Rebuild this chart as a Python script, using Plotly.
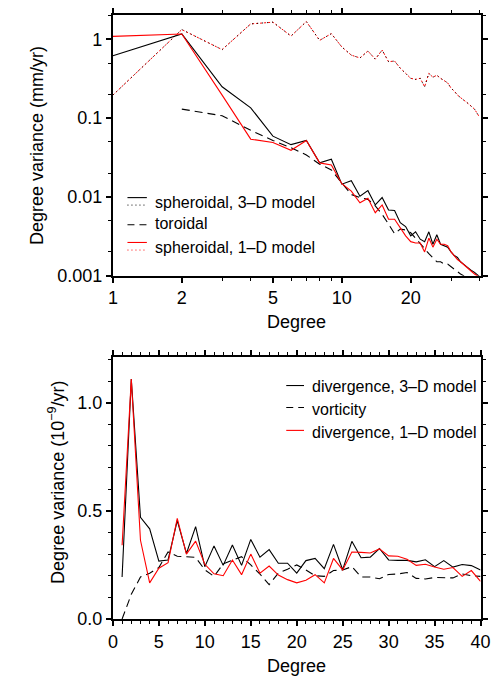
import plotly.graph_objects as go

# ---------------- data: top panel (log-log) ----------------
deg_top = list(range(1, 41))
sph3d = [0.62, 1.17, 0.25, 0.135, 0.059, 0.046, 0.052, 0.027, 0.030, 0.0145,
         0.016, 0.0102, 0.012, 0.0079, 0.0098, 0.0068, 0.0067, 0.0047, 0.0042, 0.0032,
         0.0036, 0.0029, 0.0027, 0.0036, 0.0025, 0.0033, 0.0025, 0.0024, 0.0023, 0.0020,
         0.0018, 0.0017, 0.0015, 0.0014, 0.0013, 0.0012, 0.00115, 0.0011, 0.00102, 0.00097]
sph1d = [1.09, 1.17, 0.196, 0.054, 0.049, 0.039, 0.052, 0.027, 0.0254, 0.0147,
         0.0118, 0.0084, 0.0096, 0.0063, 0.0079, 0.0052, 0.0052, 0.0040, 0.0032, 0.0027,
         0.0026, 0.0026, 0.0020, 0.0030, 0.0023, 0.0029, 0.0025, 0.0025, 0.0024, 0.0020,
         0.0018, 0.0016, 0.0015, 0.0014, 0.0013, 0.0012, 0.00112, 0.00105, 0.0010, 0.00095]
deg_tor = list(range(2, 41))
toroidal = [0.13, 0.107, 0.07, 0.052, 0.042, 0.034, 0.026, 0.022, 0.015,
            0.0107, 0.0098, 0.0093, 0.0077, 0.006, 0.0045, 0.0034, 0.0039, 0.0038, 0.0035,
            0.0030, 0.0026, 0.0022, 0.0019, 0.0017, 0.0015, 0.0015, 0.0014, 0.0014, 0.0013,
            0.0012, 0.0011, 0.00105, 0.0010, 0.0009, 0.00085, 0.0008, 0.00075, 0.0007, 0.00065]
sph3d_dot = [0.196, 1.33, 0.74, 1.57, 1.65, 1.10, 1.68, 0.97, 1.18, 0.80,
             0.63, 0.58, 0.71, 0.56, 0.73, 0.52, 0.53, 0.43, 0.37, 0.32,
             0.31, 0.32, 0.25, 0.37, 0.33, 0.35, 0.32, 0.30, 0.28, 0.24,
             0.22, 0.196, 0.18, 0.17, 0.16, 0.15, 0.14, 0.13, 0.115, 0.102]
sph1d_dot = [0.196, 1.33, 0.74, 1.57, 1.65, 1.10, 1.68, 0.97, 1.18, 0.80,
             0.63, 0.58, 0.71, 0.56, 0.73, 0.52, 0.53, 0.43, 0.37, 0.32,
             0.31, 0.32, 0.25, 0.37, 0.33, 0.35, 0.32, 0.30, 0.28, 0.24,
             0.22, 0.196, 0.18, 0.17, 0.16, 0.15, 0.14, 0.13, 0.115, 0.102]

# ---------------- data: bottom panel (linear) ----------------
deg_bot = list(range(1, 41))
div3d = [0.194, 1.109, 0.47, 0.417, 0.268, 0.273, 0.455, 0.303, 0.427, 0.242,
         0.338, 0.248, 0.342, 0.248, 0.368, 0.286, 0.321, 0.258, 0.258, 0.212,
         0.27, 0.28, 0.233, 0.345, 0.228, 0.359, 0.283, 0.286, 0.326, 0.273,
         0.271, 0.271, 0.264, 0.274, 0.242, 0.27, 0.24, 0.252, 0.247, 0.227]
div1d = [0.341, 1.109, 0.364, 0.167, 0.235, 0.26, 0.465, 0.3, 0.36, 0.253,
         0.209, 0.2, 0.273, 0.205, 0.3, 0.212, 0.245, 0.203, 0.182, 0.167,
         0.179, 0.205, 0.167, 0.28, 0.227, 0.31, 0.308, 0.305, 0.324, 0.292,
         0.29, 0.276, 0.248, 0.253, 0.24, 0.23, 0.238, 0.197, 0.224, 0.174]
vorticity = [0.0, 0.114, 0.194, 0.212, 0.238, 0.31, 0.29, 0.288, 0.285, 0.227,
             0.197, 0.255, 0.273, 0.288, 0.25, 0.208, 0.159, 0.212, 0.23, 0.25,
             0.227, 0.2, 0.197, 0.224, 0.227, 0.242, 0.194, 0.194, 0.186, 0.206,
             0.208, 0.215, 0.188, 0.185, 0.192, 0.192, 0.19, 0.208, 0.2, 0.197]

top_xticks = [1, 2, 5, 10, 20]
top_xminor = [3, 4, 6, 7, 8, 9, 30, 40]
top_yticks = [0.001, 0.01, 0.1, 1]
top_yticktext = ["0.001", "0.01", "0.1", "1"]
top_yminor = [0.002, 0.005, 0.02, 0.05, 0.2, 0.5, 2]
bot_yticks = [0.0, 0.5, 1.0]
bot_yticktext = ["0.0", "0.5", "1.0"]

legend_top = ["spheroidal, 3\u2013D model", "toroidal", "spheroidal, 1\u2013D model"]
legend_bot = ["divergence, 3\u2013D model", "vorticity", "divergence, 1\u2013D model"]

W, H = 500, 682
FONT = "Liberation Sans, Arial, Helvetica, sans-serif"
RED = "#ff0000"
DASH = "8px,5px"


def px(x):
    return x / W


def py(y):
    return 1 - y / H


fig = go.Figure()

# top panel traces
fig.add_trace(go.Scatter(x=deg_top, y=sph1d_dot, mode="lines", xaxis="x", yaxis="y",
                         line=dict(color=RED, width=1, dash="2px,2px")))
fig.add_trace(go.Scatter(x=deg_top, y=sph3d_dot, mode="lines", xaxis="x", yaxis="y",
                         line=dict(color="black", width=1, dash="1px,4px")))
fig.add_trace(go.Scatter(x=deg_tor, y=toroidal, mode="lines", xaxis="x", yaxis="y",
                         line=dict(color="black", width=1.1, dash=DASH)))
fig.add_trace(go.Scatter(x=deg_top, y=sph3d, mode="lines", xaxis="x", yaxis="y",
                         line=dict(color="black", width=1.1)))
fig.add_trace(go.Scatter(x=deg_top, y=sph1d, mode="lines", xaxis="x", yaxis="y",
                         line=dict(color=RED, width=1.1)))

# bottom panel traces
fig.add_trace(go.Scatter(x=deg_bot, y=vorticity, mode="lines", xaxis="x2", yaxis="y2",
                         line=dict(color="black", width=1.1, dash=DASH)))
fig.add_trace(go.Scatter(x=deg_bot, y=div3d, mode="lines", xaxis="x2", yaxis="y2",
                         line=dict(color="black", width=1.1)))
fig.add_trace(go.Scatter(x=deg_bot, y=div1d, mode="lines", xaxis="x2", yaxis="y2",
                         line=dict(color=RED, width=1.1)))

axis_common = dict(showline=True, linewidth=2, linecolor="black", mirror="ticks",
                   ticks="outside", ticklen=5, tickwidth=1.5, tickcolor="black",
                   showgrid=False, zeroline=False,
                   tickfont=dict(family=FONT, size=18, color="black"))

fig.update_layout(
    width=W, height=H, margin=dict(l=0, r=0, t=0, b=0),
    paper_bgcolor="white", plot_bgcolor="white", showlegend=False,
    font=dict(family=FONT, color="black"),
    xaxis=dict(axis_common, type="log", range=[0, 1.606], domain=[px(103), px(482)],
               anchor="y", tickmode="array", tickvals=top_xticks,
               ticktext=[str(v) for v in top_xticks],
               minor=dict(tickmode="array", tickvals=top_xminor, ticks="outside",
                          ticklen=3, tickwidth=1, tickcolor="black", showgrid=False)),
    yaxis=dict(axis_common, type="log", range=[-3, 0.31], domain=[py(271), py(6)],
               anchor="x", tickmode="array", tickvals=top_yticks, ticktext=top_yticktext,
               minor=dict(tickmode="array", tickvals=top_yminor, ticks="outside",
                          ticklen=3, tickwidth=1, tickcolor="black", showgrid=False)),
    xaxis2=dict(axis_common, range=[0, 40], domain=[px(103), px(482)], anchor="y2",
                tickmode="linear", tick0=0, dtick=5,
                minor=dict(dtick=1, ticks="outside", ticklen=3, tickwidth=1,
                           tickcolor="black", showgrid=False)),
    yaxis2=dict(axis_common, range=[0, 1.21], domain=[py(620), py(354)], anchor="x2",
                tickmode="array", tickvals=bot_yticks, ticktext=bot_yticktext,
                minor=dict(dtick=0.1, tick0=0, ticks="outside", ticklen=3, tickwidth=1,
                           tickcolor="black", showgrid=False)),
)

annotations = []
shapes = []

# axis titles
annotations.append(dict(text="Degree", x=px(292.5), y=py(318), xref="paper", yref="paper",
                        showarrow=False, xanchor="center", yanchor="middle",
                        font=dict(family=FONT, size=18, color="black")))
annotations.append(dict(text="Degree", x=px(292.5), y=py(668), xref="paper", yref="paper",
                        showarrow=False, xanchor="center", yanchor="middle",
                        font=dict(family=FONT, size=18, color="black")))
annotations.append(dict(text="Degree variance (mm/yr)", x=px(25), y=py(139), xref="paper",
                        yref="paper", showarrow=False, textangle=-90,
                        xanchor="center", yanchor="middle",
                        font=dict(family=FONT, size=18, color="black")))
annotations.append(dict(text="Degree variance (10<sup>\u22129</sup>/yr)", x=px(45), y=py(481),
                        xref="paper", yref="paper", showarrow=False, textangle=-90,
                        xanchor="center", yanchor="middle",
                        font=dict(family=FONT, size=18, color="black")))

# top legend (manual, so the combined solid+dotted samples can be shown)
def seg(x0, x1, y, color, dash, width=1.1):
    shapes.append(dict(type="line", xref="paper", yref="paper",
                       x0=px(x0), x1=px(x1), y0=py(y), y1=py(y),
                       line=dict(color=color, width=width, dash=dash)))


def label(text, x, y):
    annotations.append(dict(text=text, x=px(x), y=py(y), xref="paper", yref="paper",
                            showarrow=False, xanchor="left", yanchor="middle",
                            font=dict(family=FONT, size=16, color="black")))


seg(118, 138, 191.7, "black", "solid")
seg(118, 138, 199.3, "black", "1px,3px", 1)
label(legend_top[0], 144, 197)
seg(118, 138, 219.3, "black", "7px,5px")
label(legend_top[1], 144, 218.5)
seg(118, 138, 237.3, RED, "solid")
seg(118, 138, 245, RED, "1px,3px", 1)
label(legend_top[2], 144, 242)

# bottom legend
seg(281.7, 300, 382.7, "black", "solid")
label(legend_bot[0], 306, 384)
seg(281.7, 300, 405, "black", "7px,5px")
label(legend_bot[1], 306, 407)
seg(281.7, 300, 428.3, RED, "solid")
label(legend_bot[2], 306, 430)

fig.update_layout(annotations=annotations, shapes=shapes)

fig.write_html("out.html")
